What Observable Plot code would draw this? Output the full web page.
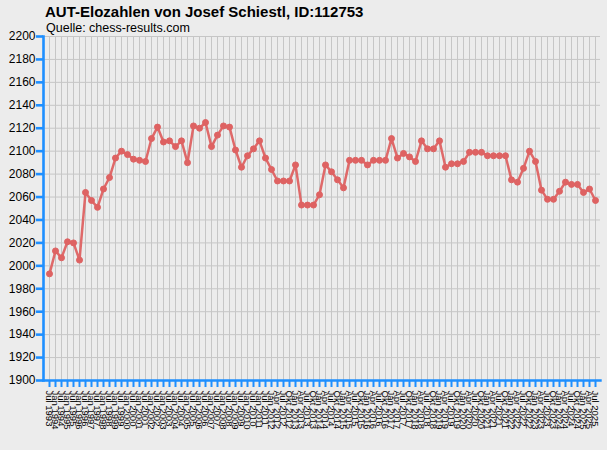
<!DOCTYPE html>
<html>
<head>
<meta charset="utf-8">
<script src="https://cdn.jsdelivr.net/npm/d3@7"></script>
<script src="https://cdn.jsdelivr.net/npm/@observablehq/plot@0.6"></script>
<style>
  html, body { margin: 0; padding: 0; background: #ececec; }
  body { width: 607px; height: 450px; overflow: hidden; font-family: "Liberation Sans", Arial, sans-serif; }
  #head { position: relative; height: 30px; }
  #title { position: absolute; left: 45px; top: 3.5px; font-size: 15px; line-height: 15px; font-weight: bold; color: #000; white-space: nowrap; }
  #sub { position: absolute; left: 46px; top: 21.5px; font-size: 12.5px; line-height: 12px; color: #000; white-space: nowrap; }
</style>
</head>
<body>
<div id="head">
  <div id="title">AUT-Elozahlen von Josef Schiestl, ID:112753</div>
  <div id="sub">Quelle: chess-results.com</div>
</div>
<div id="chart"></div>
<script>
const periods = [
  "Jul 1993","Jan 1994","Jul 1994","Jan 1995","Jul 1995","Jan 1996","Jul 1996","Jan 1997","Jul 1997","Jan 1998",
  "Jul 1998","Jan 1999","Jul 1999","Jan 2000","Jul 2000","Jan 2001","Jul 2001","Jan 2002","Jul 2002","Jan 2003",
  "Jul 2003","Jan 2004","Jul 2004","Jan 2005","Jul 2005","Jan 2006","Jul 2006","Jan 2007","Jul 2007","Jan 2008",
  "Jul 2008","Jan 2009","Jul 2009","Jan 2010","Jul 2010","Jan 2011","Jul 2011","Jan 2012",
  "Apr 2012","Jul 2012","Okt 2012",
  "Jan 2013","Apr 2013","Jul 2013","Okt 2013","Jan 2014","Apr 2014","Jul 2014","Okt 2014",
  "Jan 2015","Apr 2015","Jul 2015","Okt 2015","Jan 2016","Apr 2016","Jul 2016","Okt 2016",
  "Jan 2017","Apr 2017","Jul 2017","Okt 2017","Jan 2018","Apr 2018","Jul 2018","Okt 2018",
  "Jan 2019","Apr 2019","Jul 2019","Okt 2019","Jan 2020","Apr 2020","Jul 2020","Okt 2020",
  "Jan 2021","Apr 2021","Jul 2021","Okt 2021","Jan 2022","Apr 2022","Jul 2022","Okt 2022",
  "Jan 2023","Apr 2023","Jul 2023","Okt 2023","Jan 2024","Apr 2024","Jul 2024","Okt 2024",
  "Jan 2025","Apr 2025","Jul 2025"
];
const elo = [
  1993,2013,2007,2021,2020,2005,2064,2057,2051,2067,
  2077,2094,2100,2097,2093,2092,2091,2111,2121,2108,
  2109,2104,2109,2090,2122,2120,2125,2104,2114,2122,
  2121,2101,2086,2096,2102,2109,2094,2084,2074,2074,
  2074,2088,2053,2053,2053,2062,2088,2082,2075,2068,
  2092,2092,2092,2088,2092,2092,2092,2111,2094,2098,
  2095,2091,2109,2102,2102,2109,2086,2089,2089,2091,
  2099,2099,2099,2096,2096,2096,2096,2075,2073,2085,
  2100,2091,2066,2058,2058,2065,2073,2071,2071,2064,
  2067,2057
];
const yTicks = [1900,1920,1940,1960,1980,2000,2020,2040,2060,2080,2100,2120,2140,2160,2180,2200];

const data = periods.map((p, i) => ({period: p, elo: elo[i]}));
const blue = "#1e8fff";
const red = "#de6262";

const chart = Plot.plot({
  width: 607,
  height: 420,
  marginTop: 6,
  marginBottom: 70,
  marginLeft: 43,
  marginRight: 7,
  style: {background: "#ececec", fontFamily: "'Liberation Sans', Arial, sans-serif", color: "#000", overflow: "visible"},
  x: {type: "point", domain: periods, range: [49.3, 595.3], padding: 0},
  y: {domain: [1900, 2200]},
  marks: [
    Plot.gridY(yTicks, {stroke: "#c6c6c6", strokeOpacity: 1, strokeWidth: 1}),
    Plot.gridX(periods, {stroke: "#c6c6c6", strokeOpacity: 1, strokeWidth: 1}),
    Plot.line(data, {x: "period", y: "elo", stroke: red, strokeWidth: 2.5, strokeOpacity: 0.95}),
    Plot.dot(data, {x: "period", y: "elo", r: 3, fill: red, stroke: red, strokeWidth: 1}),
    Plot.frame({anchor: "left", stroke: blue, strokeWidth: 2.6}),
    Plot.frame({anchor: "bottom", stroke: blue, strokeWidth: 2.4}),
    Plot.axisY(yTicks, {tickSize: 7, tickPadding: 1, stroke: blue, strokeWidth: 2.6, fill: "#000", fontSize: 12, label: null, tickFormat: d => String(d)}),
    Plot.axisX(periods, {tickSize: 7, tickPadding: 3, stroke: blue, strokeWidth: 2, fill: "#000", fontSize: 9.5, tickRotate: 90, label: null})
  ]
});
document.getElementById("chart").appendChild(chart);
</script>
</body>
</html>
